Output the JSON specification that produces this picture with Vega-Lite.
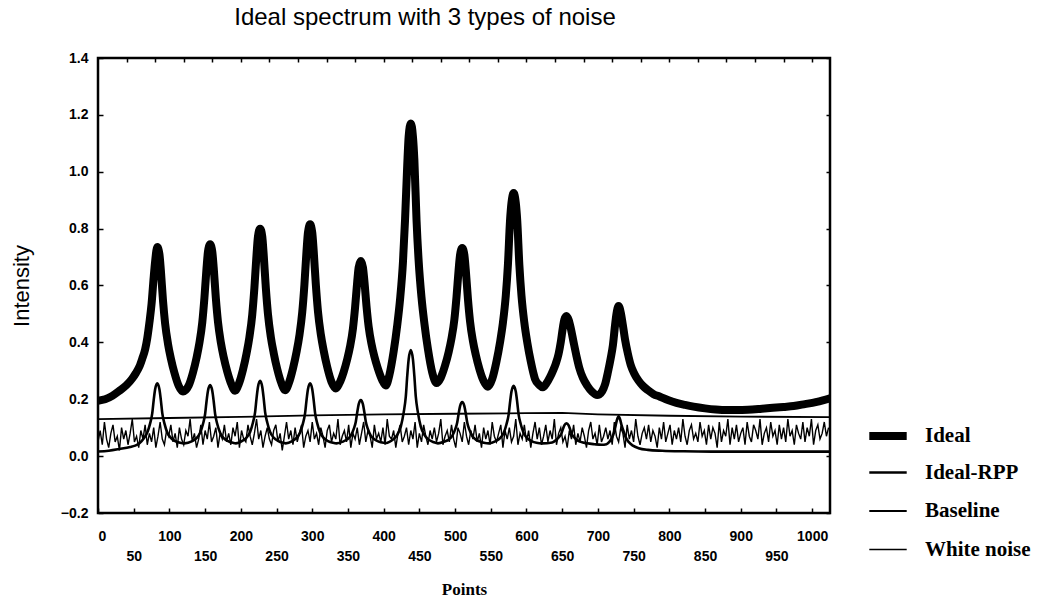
{
"$schema": "https://vega.github.io/schema/vega-lite/v6.json",
"width": 732, "height": 455,
"autosize": {"type": "none"},
"padding": {"left": 98, "top": 58, "right": 211, "bottom": 90},
"background": "white",
"config": {"view": {"stroke": "black", "strokeWidth": 2.5}, "font": "Liberation Sans"},
"title": {"text": "Ideal spectrum with 3 types of noise", "fontSize": 24, "fontWeight": "normal", "font": "Liberation Sans", "color": "black", "anchor": "middle", "dx": -39, "offset": 21},
"datasets": {
"ideal": [
{"x":0,"y":0.195},{"x":10,"y":0.2},{"x":20,"y":0.212},{"x":30,"y":0.23},{"x":40,"y":0.25},{"x":48,"y":0.273},{"x":53,"y":0.292},{"x":58,"y":0.315},{"x":62,"y":0.343},{"x":66,"y":0.375},{"x":69,"y":0.415},{"x":72,"y":0.47},{"x":75,"y":0.535},{"x":78,"y":0.63},{"x":80,"y":0.685},{"x":83,"y":0.735},
{"x":86,"y":0.71},{"x":88,"y":0.654},{"x":91,"y":0.547},{"x":94,"y":0.466},{"x":98,"y":0.395},{"x":102,"y":0.344},{"x":107,"y":0.293},{"x":113,"y":0.247},{"x":119,"y":0.227},
{"x":127,"y":0.248},{"x":133,"y":0.294},{"x":138,"y":0.346},{"x":142,"y":0.398},{"x":146,"y":0.47},{"x":149,"y":0.556},{"x":152,"y":0.662},{"x":154,"y":0.719},{"x":157,"y":0.745},
{"x":160,"y":0.719},{"x":162,"y":0.663},{"x":165,"y":0.556},{"x":168,"y":0.472},{"x":172,"y":0.4},{"x":176,"y":0.348},{"x":181,"y":0.297},{"x":187,"y":0.251},{"x":192,"y":0.23},
{"x":197,"y":0.253},{"x":203,"y":0.304},{"x":208,"y":0.361},{"x":212,"y":0.418},{"x":216,"y":0.498},{"x":219,"y":0.592},{"x":222,"y":0.709},{"x":224,"y":0.772},{"x":227,"y":0.8},
{"x":230,"y":0.772},{"x":232,"y":0.709},{"x":235,"y":0.592},{"x":238,"y":0.499},{"x":242,"y":0.419},{"x":246,"y":0.363},{"x":251,"y":0.306},{"x":257,"y":0.255},{"x":262,"y":0.232},
{"x":267,"y":0.255},{"x":273,"y":0.308},{"x":278,"y":0.366},{"x":282,"y":0.424},{"x":286,"y":0.506},{"x":289,"y":0.602},{"x":292,"y":0.722},{"x":294,"y":0.786},{"x":297,"y":0.815},
{"x":300,"y":0.786},{"x":302,"y":0.723},{"x":305,"y":0.604},{"x":308,"y":0.509},{"x":312,"y":0.428},{"x":316,"y":0.371},{"x":321,"y":0.313},{"x":327,"y":0.261},{"x":333,"y":0.238},
{"x":338,"y":0.256},{"x":344,"y":0.296},{"x":349,"y":0.341},{"x":353,"y":0.386},{"x":357,"y":0.449},{"x":360,"y":0.523},{"x":363,"y":0.614},{"x":365,"y":0.664},{"x":368,"y":0.686},
{"x":371,"y":0.664},{"x":373,"y":0.616},{"x":376,"y":0.527},{"x":379,"y":0.455},{"x":383,"y":0.394},{"x":387,"y":0.35},{"x":392,"y":0.307},{"x":398,"y":0.267},{"x":403,"y":0.248},
{"x":408,"y":0.285},{"x":414,"y":0.368},{"x":419,"y":0.46},{"x":423,"y":0.552},{"x":427,"y":0.681},{"x":430,"y":0.834},{"x":433,"y":1.022},{"x":435,"y":1.124},{"x":438,"y":1.17},
{"x":441,"y":1.124},{"x":443,"y":1.042},{"x":446,"y":0.832},{"x":449,"y":0.686},{"x":453,"y":0.558},{"x":457,"y":0.467},{"x":462,"y":0.376},{"x":468,"y":0.294},{"x":474,"y":0.257},
{"x":480,"y":0.276},{"x":486,"y":0.319},{"x":491,"y":0.366},{"x":495,"y":0.414},{"x":499,"y":0.48},{"x":502,"y":0.559},{"x":505,"y":0.656},{"x":507,"y":0.708},{"x":510,"y":0.732},
{"x":513,"y":0.708},{"x":515,"y":0.654},{"x":518,"y":0.553},{"x":521,"y":0.473},{"x":525,"y":0.405},{"x":529,"y":0.356},{"x":534,"y":0.307},{"x":540,"y":0.264},{"x":546,"y":0.244},
{"x":552,"y":0.271},{"x":558,"y":0.333},{"x":563,"y":0.401},{"x":567,"y":0.469},{"x":571,"y":0.564},{"x":574,"y":0.673},{"x":577,"y":0.83},{"x":579,"y":0.891},{"x":582,"y":0.925},
{"x":585,"y":0.891},{"x":587,"y":0.83},{"x":590,"y":0.673},{"x":593,"y":0.564},{"x":597,"y":0.469},{"x":601,"y":0.401},{"x":606,"y":0.333},{"x":612,"y":0.271},{"x":618,"y":0.25},{"x":623,"y":0.242},
{"x":628,"y":0.256},{"x":633,"y":0.278},{"x":637,"y":0.3},{"x":641,"y":0.325},{"x":645,"y":0.36},{"x":648,"y":0.401},{"x":651,"y":0.453},{"x":653,"y":0.48},{"x":656,"y":0.493},
{"x":659,"y":0.479},{"x":662,"y":0.45},{"x":666,"y":0.4},{"x":670,"y":0.352},{"x":674,"y":0.31},{"x":679,"y":0.275},{"x":685,"y":0.248},{"x":692,"y":0.226},{"x":699,"y":0.215},
{"x":702,"y":0.217},{"x":706,"y":0.228},{"x":710,"y":0.252},{"x":714,"y":0.295},{"x":718,"y":0.345},{"x":721,"y":0.39},{"x":724,"y":0.46},{"x":726,"y":0.5},{"x":729,"y":0.528},
{"x":732,"y":0.505},{"x":735,"y":0.46},{"x":738,"y":0.41},{"x":742,"y":0.36},{"x":746,"y":0.32},{"x":751,"y":0.29},{"x":757,"y":0.265},{"x":763,"y":0.247},{"x":770,"y":0.232},{"x":778,"y":0.218},{"x":787,"y":0.209},{"x":798,"y":0.197},{"x":810,"y":0.187},{"x":822,"y":0.18},{"x":834,"y":0.174},{"x":850,"y":0.168},{"x":865,"y":0.164},{"x":880,"y":0.162},{"x":895,"y":0.162},{"x":910,"y":0.163},{"x":927,"y":0.166},{"x":945,"y":0.17},{"x":960,"y":0.173},{"x":974,"y":0.176},{"x":990,"y":0.183},{"x":1005,"y":0.19},{"x":1015,"y":0.196},{"x":1025,"y":0.203}
],
"rpp": [
{"x":0,"y":0.016},{"x":15,"y":0.019},{"x":30,"y":0.025},{"x":45,"y":0.032},{"x":52,"y":0.037},{"x":58,"y":0.045},{"x":64,"y":0.062},{"x":69,"y":0.083},{"x":73,"y":0.115},{"x":76,"y":0.151},{"x":78,"y":0.197},{"x":80,"y":0.235},{"x":83,"y":0.256},{"x":86,"y":0.235},{"x":88,"y":0.197},{"x":90,"y":0.151},{"x":93,"y":0.115},{"x":97,"y":0.083},{"x":102,"y":0.064},{"x":108,"y":0.053},{"x":115,"y":0.047},{"x":121,"y":0.045},
{"x":132,"y":0.053},{"x":138,"y":0.063},{"x":143,"y":0.082},{"x":147,"y":0.113},{"x":150,"y":0.148},{"x":152,"y":0.193},{"x":154,"y":0.23},{"x":157,"y":0.25},{"x":160,"y":0.23},{"x":162,"y":0.193},{"x":164,"y":0.148},{"x":167,"y":0.113},{"x":171,"y":0.082},{"x":176,"y":0.063},{"x":182,"y":0.053},{"x":189,"y":0.047},{"x":193,"y":0.045},
{"x":202,"y":0.054},{"x":208,"y":0.065},{"x":213,"y":0.085},{"x":217,"y":0.118},{"x":220,"y":0.155},{"x":222,"y":0.203},{"x":224,"y":0.243},{"x":227,"y":0.265},{"x":230,"y":0.243},{"x":232,"y":0.203},{"x":234,"y":0.155},{"x":237,"y":0.118},{"x":241,"y":0.085},{"x":246,"y":0.065},{"x":252,"y":0.054},{"x":259,"y":0.047},{"x":263,"y":0.045},
{"x":272,"y":0.053},{"x":278,"y":0.064},{"x":283,"y":0.083},{"x":287,"y":0.115},{"x":290,"y":0.151},{"x":292,"y":0.197},{"x":294,"y":0.235},{"x":297,"y":0.256},{"x":300,"y":0.235},{"x":302,"y":0.197},{"x":304,"y":0.151},{"x":307,"y":0.115},{"x":311,"y":0.083},{"x":316,"y":0.064},{"x":322,"y":0.053},{"x":329,"y":0.047},{"x":334,"y":0.045},
{"x":343,"y":0.051},{"x":349,"y":0.059},{"x":354,"y":0.072},{"x":358,"y":0.095},{"x":361,"y":0.121},{"x":363,"y":0.154},{"x":365,"y":0.182},{"x":368,"y":0.197},{"x":371,"y":0.182},{"x":373,"y":0.154},{"x":375,"y":0.121},{"x":378,"y":0.095},{"x":382,"y":0.072},{"x":387,"y":0.059},{"x":393,"y":0.051},{"x":400,"y":0.047},{"x":404,"y":0.046},
{"x":408,"y":0.05},{"x":413,"y":0.058},{"x":419,"y":0.075},{"x":424,"y":0.104},{"x":428,"y":0.153},{"x":431,"y":0.209},{"x":433,"y":0.281},{"x":435,"y":0.34},{"x":438,"y":0.373},{"x":441,"y":0.34},{"x":443,"y":0.281},{"x":445,"y":0.209},{"x":448,"y":0.153},{"x":452,"y":0.104},{"x":457,"y":0.075},{"x":463,"y":0.058},{"x":470,"y":0.049},{"x":476,"y":0.045},
{"x":485,"y":0.051},{"x":491,"y":0.058},{"x":496,"y":0.071},{"x":500,"y":0.093},{"x":503,"y":0.118},{"x":505,"y":0.149},{"x":507,"y":0.176},{"x":510,"y":0.19},{"x":513,"y":0.176},{"x":515,"y":0.149},{"x":517,"y":0.118},{"x":520,"y":0.093},{"x":524,"y":0.071},{"x":529,"y":0.058},{"x":535,"y":0.051},{"x":542,"y":0.046},{"x":547,"y":0.045},
{"x":557,"y":0.053},{"x":563,"y":0.063},{"x":568,"y":0.081},{"x":572,"y":0.112},{"x":575,"y":0.146},{"x":577,"y":0.19},{"x":579,"y":0.227},{"x":582,"y":0.247},{"x":585,"y":0.227},{"x":587,"y":0.19},{"x":589,"y":0.146},{"x":592,"y":0.112},{"x":596,"y":0.081},{"x":601,"y":0.063},{"x":607,"y":0.053},{"x":614,"y":0.047},{"x":622,"y":0.045},
{"x":636,"y":0.048},{"x":642,"y":0.058},{"x":646,"y":0.068},{"x":649,"y":0.08},{"x":651,"y":0.095},{"x":653,"y":0.108},{"x":656,"y":0.115},{"x":659,"y":0.108},{"x":661,"y":0.095},{"x":663,"y":0.08},{"x":666,"y":0.068},{"x":670,"y":0.058},{"x":676,"y":0.05},{"x":685,"y":0.045},{"x":695,"y":0.042},{"x":705,"y":0.04},
{"x":712,"y":0.042},{"x":716,"y":0.05},{"x":720,"y":0.066},{"x":723,"y":0.087},{"x":725,"y":0.11},{"x":727,"y":0.13},{"x":729,"y":0.14},{"x":731,"y":0.13},{"x":733,"y":0.11},{"x":736,"y":0.087},{"x":739,"y":0.066},{"x":743,"y":0.05},{"x":749,"y":0.037},{"x":757,"y":0.028},{"x":770,"y":0.022},{"x":790,"y":0.019},{"x":820,"y":0.017},{"x":860,"y":0.016},{"x":1025,"y":0.016}
],
"base": [
{"x":0,"y":0.13},{"x":100,"y":0.134},{"x":200,"y":0.138},{"x":300,"y":0.143},{"x":400,"y":0.147},{"x":500,"y":0.149},{"x":600,"y":0.151},{"x":650,"y":0.152},{"x":700,"y":0.147},{"x":800,"y":0.142},{"x":900,"y":0.139},{"x":1025,"y":0.137}
],
"noise": [
{"x":0,"y":0.05},{"x":3,"y":0.09},{"x":6,"y":0.04},{"x":9,"y":0.12},{"x":12,"y":0.06},{"x":15,"y":0.03},{"x":18,"y":0.08},{"x":21,"y":0.11},{"x":24,"y":0.05},{"x":27,"y":0.07},{"x":30,"y":0.02},{"x":33,"y":0.10},{"x":36,"y":0.06},{"x":39,"y":0.09},{"x":42,"y":0.04},{"x":45,"y":0.08},{"x":48,"y":0.13},{"x":51,"y":0.05},{"x":54,"y":0.07},{"x":57,"y":0.03},
{"x":60,"y":0.09},{"x":63,"y":0.06},{"x":66,"y":0.11},{"x":69,"y":0.04},{"x":72,"y":0.08},{"x":75,"y":0.05},{"x":78,"y":0.10},{"x":81,"y":0.03},{"x":84,"y":0.07},{"x":87,"y":0.12},{"x":90,"y":0.06},{"x":93,"y":0.04},{"x":96,"y":0.09},{"x":99,"y":0.07},{"x":102,"y":0.11},{"x":105,"y":0.05},{"x":108,"y":0.08},{"x":111,"y":0.03},{"x":114,"y":0.10},{"x":117,"y":0.06},
{"x":120,"y":0.04},{"x":123,"y":0.09},{"x":126,"y":0.07},{"x":129,"y":0.13},{"x":132,"y":0.05},{"x":135,"y":0.08},{"x":138,"y":0.03},{"x":141,"y":0.06},{"x":144,"y":0.11},{"x":147,"y":0.04},{"x":150,"y":0.09},{"x":153,"y":0.06},{"x":156,"y":0.12},{"x":159,"y":0.05},{"x":162,"y":0.07},{"x":165,"y":0.10},{"x":168,"y":0.03},{"x":171,"y":0.08},{"x":174,"y":0.06},{"x":177,"y":0.11},
{"x":180,"y":0.05},{"x":183,"y":0.08},{"x":186,"y":0.04},{"x":189,"y":0.10},{"x":192,"y":0.07},{"x":195,"y":0.12},{"x":198,"y":0.03},{"x":201,"y":0.09},{"x":204,"y":0.06},{"x":207,"y":0.05},{"x":210,"y":0.11},{"x":213,"y":0.07},{"x":216,"y":0.04},{"x":219,"y":0.08},{"x":222,"y":0.13},{"x":225,"y":0.06},{"x":228,"y":0.09},{"x":231,"y":0.03},{"x":234,"y":0.07},{"x":237,"y":0.10},
{"x":240,"y":0.06},{"x":243,"y":0.04},{"x":246,"y":0.09},{"x":249,"y":0.11},{"x":252,"y":0.05},{"x":255,"y":0.08},{"x":258,"y":0.02},{"x":261,"y":0.07},{"x":264,"y":0.12},{"x":267,"y":0.06},{"x":270,"y":0.09},{"x":273,"y":0.04},{"x":276,"y":0.10},{"x":279,"y":0.05},{"x":282,"y":0.08},{"x":285,"y":0.11},{"x":288,"y":0.03},{"x":291,"y":0.07},{"x":294,"y":0.09},{"x":297,"y":0.05},
{"x":300,"y":0.12},{"x":303,"y":0.06},{"x":306,"y":0.08},{"x":309,"y":0.04},{"x":312,"y":0.10},{"x":315,"y":0.07},{"x":318,"y":0.03},{"x":321,"y":0.09},{"x":324,"y":0.11},{"x":327,"y":0.05},{"x":330,"y":0.08},{"x":333,"y":0.06},{"x":336,"y":0.13},{"x":339,"y":0.04},{"x":342,"y":0.07},{"x":345,"y":0.09},{"x":348,"y":0.05},{"x":351,"y":0.11},{"x":354,"y":0.03},{"x":357,"y":0.08},
{"x":360,"y":0.06},{"x":363,"y":0.10},{"x":366,"y":0.04},{"x":369,"y":0.08},{"x":372,"y":0.12},{"x":375,"y":0.05},{"x":378,"y":0.09},{"x":381,"y":0.07},{"x":384,"y":0.03},{"x":387,"y":0.11},{"x":390,"y":0.06},{"x":393,"y":0.08},{"x":396,"y":0.05},{"x":399,"y":0.10},{"x":402,"y":0.04},{"x":405,"y":0.13},{"x":408,"y":0.07},{"x":411,"y":0.06},{"x":414,"y":0.09},{"x":417,"y":0.03},
{"x":420,"y":0.08},{"x":423,"y":0.11},{"x":426,"y":0.05},{"x":429,"y":0.07},{"x":432,"y":0.10},{"x":435,"y":0.04},{"x":438,"y":0.09},{"x":441,"y":0.06},{"x":444,"y":0.12},{"x":447,"y":0.03},{"x":450,"y":0.08},{"x":453,"y":0.05},{"x":456,"y":0.11},{"x":459,"y":0.07},{"x":462,"y":0.04},{"x":465,"y":0.09},{"x":468,"y":0.06},{"x":471,"y":0.10},{"x":474,"y":0.05},{"x":477,"y":0.08},
{"x":480,"y":0.13},{"x":483,"y":0.04},{"x":486,"y":0.07},{"x":489,"y":0.09},{"x":492,"y":0.05},{"x":495,"y":0.11},{"x":498,"y":0.06},{"x":501,"y":0.03},{"x":504,"y":0.10},{"x":507,"y":0.08},{"x":510,"y":0.05},{"x":513,"y":0.12},{"x":516,"y":0.07},{"x":519,"y":0.04},{"x":522,"y":0.09},{"x":525,"y":0.06},{"x":528,"y":0.11},{"x":531,"y":0.05},{"x":534,"y":0.08},{"x":537,"y":0.03},
{"x":540,"y":0.10},{"x":543,"y":0.06},{"x":546,"y":0.09},{"x":549,"y":0.04},{"x":552,"y":0.12},{"x":555,"y":0.07},{"x":558,"y":0.05},{"x":561,"y":0.08},{"x":564,"y":0.11},{"x":567,"y":0.03},{"x":570,"y":0.09},{"x":573,"y":0.06},{"x":576,"y":0.10},{"x":579,"y":0.05},{"x":582,"y":0.07},{"x":585,"y":0.13},{"x":588,"y":0.04},{"x":591,"y":0.08},{"x":594,"y":0.06},{"x":597,"y":0.11},
{"x":600,"y":0.05},{"x":603,"y":0.09},{"x":606,"y":0.03},{"x":609,"y":0.08},{"x":612,"y":0.12},{"x":615,"y":0.06},{"x":618,"y":0.10},{"x":621,"y":0.04},{"x":624,"y":0.07},{"x":627,"y":0.11},{"x":630,"y":0.05},{"x":633,"y":0.09},{"x":636,"y":0.06},{"x":639,"y":0.13},{"x":642,"y":0.04},{"x":645,"y":0.08},{"x":648,"y":0.10},{"x":651,"y":0.05},{"x":654,"y":0.07},{"x":657,"y":0.03},
{"x":660,"y":0.09},{"x":663,"y":0.06},{"x":666,"y":0.11},{"x":669,"y":0.04},{"x":672,"y":0.08},{"x":675,"y":0.05},{"x":678,"y":0.10},{"x":681,"y":0.07},{"x":684,"y":0.03},{"x":687,"y":0.09},{"x":690,"y":0.12},{"x":693,"y":0.06},{"x":696,"y":0.08},{"x":699,"y":0.04},{"x":702,"y":0.11},{"x":705,"y":0.05},{"x":708,"y":0.07},{"x":711,"y":0.10},{"x":714,"y":0.06},{"x":717,"y":0.09},
{"x":720,"y":0.04},{"x":723,"y":0.12},{"x":726,"y":0.07},{"x":729,"y":0.05},{"x":732,"y":0.10},{"x":735,"y":0.08},{"x":738,"y":0.03},{"x":741,"y":0.11},{"x":744,"y":0.06},{"x":747,"y":0.09},{"x":750,"y":0.05},{"x":753,"y":0.13},{"x":756,"y":0.07},{"x":759,"y":0.04},{"x":762,"y":0.08},{"x":765,"y":0.10},{"x":768,"y":0.06},{"x":771,"y":0.11},{"x":774,"y":0.05},{"x":777,"y":0.09},
{"x":780,"y":0.07},{"x":783,"y":0.03},{"x":786,"y":0.10},{"x":789,"y":0.06},{"x":792,"y":0.12},{"x":795,"y":0.05},{"x":798,"y":0.08},{"x":801,"y":0.11},{"x":804,"y":0.04},{"x":807,"y":0.09},{"x":810,"y":0.06},{"x":813,"y":0.10},{"x":816,"y":0.05},{"x":819,"y":0.13},{"x":822,"y":0.07},{"x":825,"y":0.04},{"x":828,"y":0.09},{"x":831,"y":0.11},{"x":834,"y":0.06},{"x":837,"y":0.08},
{"x":840,"y":0.05},{"x":843,"y":0.12},{"x":846,"y":0.07},{"x":849,"y":0.09},{"x":852,"y":0.04},{"x":855,"y":0.11},{"x":858,"y":0.06},{"x":861,"y":0.10},{"x":864,"y":0.08},{"x":867,"y":0.03},{"x":870,"y":0.12},{"x":873,"y":0.05},{"x":876,"y":0.09},{"x":879,"y":0.07},{"x":882,"y":0.13},{"x":885,"y":0.04},{"x":888,"y":0.10},{"x":891,"y":0.06},{"x":894,"y":0.11},{"x":897,"y":0.05},
{"x":900,"y":0.08},{"x":903,"y":0.10},{"x":906,"y":0.04},{"x":909,"y":0.12},{"x":912,"y":0.07},{"x":915,"y":0.05},{"x":918,"y":0.11},{"x":921,"y":0.09},{"x":924,"y":0.06},{"x":927,"y":0.13},{"x":930,"y":0.04},{"x":933,"y":0.08},{"x":936,"y":0.10},{"x":939,"y":0.05},{"x":942,"y":0.12},{"x":945,"y":0.07},{"x":948,"y":0.09},{"x":951,"y":0.04},{"x":954,"y":0.11},{"x":957,"y":0.06},
{"x":960,"y":0.10},{"x":963,"y":0.05},{"x":966,"y":0.13},{"x":969,"y":0.07},{"x":972,"y":0.09},{"x":975,"y":0.04},{"x":978,"y":0.11},{"x":981,"y":0.08},{"x":984,"y":0.06},{"x":987,"y":0.12},{"x":990,"y":0.05},{"x":993,"y":0.10},{"x":996,"y":0.07},{"x":999,"y":0.13},{"x":1002,"y":0.04},{"x":1005,"y":0.09},{"x":1008,"y":0.11},{"x":1011,"y":0.06},{"x":1014,"y":0.08},{"x":1017,"y":0.12},
{"x":1020,"y":0.07},{"x":1023,"y":0.10}
]
},
"layer": [
{
"data": {"name": "noise"},
"mark": {"type": "line", "color": "black", "clip": true},
"encoding": {
"x": {"field": "x", "type": "quantitative", "scale": {"domain": [0, 1025], "nice": false, "zero": false},
 "axis": {"values": [0,50,100,150,200,250,300,350,400,450,500,550,600,650,700,750,800,850,900,950,1000], "format": "d",
  "labelExpr": "datum.value % 100 == 0 ? datum.label : ['', datum.label]", "labelOverlap": false, "labelLineHeight": 20,
  "labelFont": "Liberation Sans", "labelFontWeight": "bold", "labelFontSize": 14, "labelColor": "black", "labelPadding": 21,
  "tickSize": -5, "tickColor": "black", "tickWidth": 1.5, "domain": false, "grid": false,
  "title": "Points", "titleFont": "Liberation Serif", "titleFontSize": 17, "titleFontWeight": "bold", "titleColor": "black", "titlePadding": 18}},
"y": {"field": "y", "type": "quantitative", "scale": {"domain": [-0.2, 1.4], "nice": false, "zero": false},
 "axis": {"values": [-0.2,0,0.2,0.4,0.6,0.8,1.0,1.2,1.4], "format": ".1f",
  "labelFont": "Liberation Sans", "labelFontWeight": "bold", "labelFontSize": 14, "labelColor": "black", "labelPadding": 15,
  "tickSize": -5, "tickColor": "black", "tickWidth": 1.5, "domain": false, "grid": false,
  "title": "Intensity", "titleFont": "Liberation Sans", "titleFontSize": 22, "titleFontWeight": "normal", "titleColor": "black", "titlePadding": 27}},
"strokeWidth": {"datum": "White noise", "type": "ordinal",
 "scale": {"type": "ordinal", "domain": ["Ideal", "Ideal-RPP", "Baseline", "White noise"], "range": [8, 2.6, 1.8, 1.4]},
 "legend": {"orient": "none", "legendX": 767, "legendY": 355, "title": null, "padding": 0, "gridAlign": "all", "symbolType": "stroke", "symbolSize": 1400, "symbolStrokeColor": "black", "symbolFillColor": "black", "labelFont": "Liberation Serif", "labelFontSize": 21, "labelFontWeight": "bold", "labelColor": "black", "labelOffset": 14, "rowPadding": 0}}
}
},
{
"data": {"name": "base"},
"mark": {"type": "line", "color": "black", "clip": true},
"encoding": {
"x": {"field": "x", "type": "quantitative", "axis": {"orient": "top", "values": [40,80,120,160,200,240,280,320,360,400,440,480,520,560,600,640,680,720,760,800,840,880,920,960,1000], "labels": false, "tickSize": -4, "tickColor": "black", "tickWidth": 1.5, "domain": false, "grid": false, "title": null}},
"y": {"field": "y", "type": "quantitative", "axis": {"orient": "right", "values": [-0.2,0,0.2,0.4,0.6,0.8,1.0,1.2,1.4], "labels": false, "tickSize": -4, "tickColor": "black", "tickWidth": 1.5, "domain": false, "grid": false, "title": null}},
"strokeWidth": {"datum": "Baseline", "type": "ordinal",
 "scale": {"type": "ordinal", "domain": ["Ideal", "Ideal-RPP", "Baseline", "White noise"], "range": [8, 2.6, 1.8, 1.4]}}
}
},
{
"data": {"name": "rpp"},
"mark": {"type": "line", "color": "black", "clip": true, "interpolate": "monotone"},
"encoding": {
"x": {"field": "x", "type": "quantitative", "axis": null},
"y": {"field": "y", "type": "quantitative", "axis": null},
"strokeWidth": {"datum": "Ideal-RPP", "type": "ordinal",
 "scale": {"type": "ordinal", "domain": ["Ideal", "Ideal-RPP", "Baseline", "White noise"], "range": [8, 2.6, 1.8, 1.4]}}
}
},
{
"data": {"name": "ideal"},
"mark": {"type": "line", "color": "black", "clip": true, "interpolate": "monotone", "strokeJoin": "round", "strokeCap": "round"},
"encoding": {
"x": {"field": "x", "type": "quantitative", "axis": null},
"y": {"field": "y", "type": "quantitative", "axis": null},
"strokeWidth": {"datum": "Ideal", "type": "ordinal",
 "scale": {"type": "ordinal", "domain": ["Ideal", "Ideal-RPP", "Baseline", "White noise"], "range": [8, 2.6, 1.8, 1.4]}}
}
}
],
"resolve": {"axis": {"x": "independent", "y": "independent"}}
}
